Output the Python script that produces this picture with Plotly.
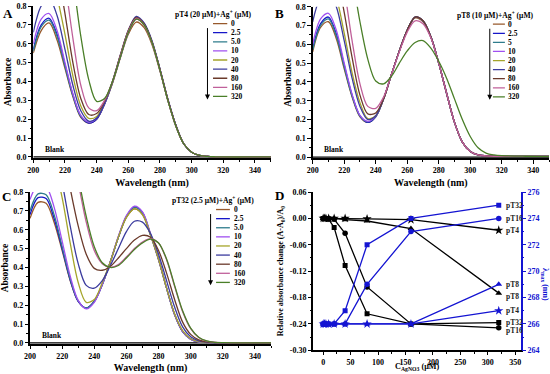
import plotly.graph_objects as go

# ---------------- data ----------------
WL = [200, 205, 210, 215, 220, 225, 230, 235, 240, 245, 250, 255, 260, 265,
      270, 275, 280, 285, 290, 295, 300, 305, 310, 315, 320, 335, 350]

LABELS_A = ["0", "2.5", "5.0", "10", "20", "40", "80", "160", "320"]
LABELS_B = ["0", "2.5", "5", "10", "20", "40", "80", "160", "320"]
LABELS_C = ["0", "2.5", "5.0", "10", "20", "40", "80", "160", "320"]
COLORS = ["#97582B", "#1616C8", "#2E7C8C", "#A050F0", "#A5A52A",
          "#3B3B9E", "#6B3A2B", "#C0609A", "#4A7F28"]

PT4_SPECTRA = [
    [0.55, 0.67, 0.71, 0.62, 0.47, 0.32, 0.21, 0.18, 0.20, 0.28, 0.39, 0.525, 0.65, 0.715, 0.685, 0.595, 0.455, 0.30, 0.165, 0.07, 0.025, 0.008, 0.003, 0.001, 0.0, 0.0, 0.0],
    [0.57, 0.70, 0.735, 0.65, 0.49, 0.33, 0.215, 0.18, 0.20, 0.28, 0.395, 0.535, 0.665, 0.74, 0.705, 0.61, 0.465, 0.305, 0.17, 0.07, 0.025, 0.008, 0.003, 0.001, 0.0, 0.0, 0.0],
    [0.56, 0.69, 0.725, 0.64, 0.48, 0.325, 0.215, 0.185, 0.205, 0.285, 0.395, 0.53, 0.66, 0.73, 0.70, 0.605, 0.46, 0.30, 0.165, 0.07, 0.025, 0.008, 0.003, 0.001, 0.0, 0.0, 0.0],
    [0.60, 0.73, 0.76, 0.67, 0.50, 0.335, 0.22, 0.185, 0.205, 0.285, 0.395, 0.53, 0.66, 0.73, 0.70, 0.605, 0.46, 0.30, 0.165, 0.07, 0.025, 0.008, 0.003, 0.001, 0.0, 0.0, 0.0],
    [0.95, 1.05, 1.0, 0.85, 0.65, 0.43, 0.27, 0.205, 0.215, 0.29, 0.395, 0.535, 0.665, 0.735, 0.70, 0.605, 0.46, 0.30, 0.165, 0.07, 0.025, 0.008, 0.003, 0.001, 0.0, 0.0, 0.0],
    [0.66, 0.80, 0.84, 0.75, 0.57, 0.38, 0.245, 0.19, 0.205, 0.285, 0.40, 0.54, 0.67, 0.745, 0.71, 0.615, 0.465, 0.305, 0.17, 0.07, 0.025, 0.008, 0.003, 0.001, 0.0, 0.0, 0.0],
    [1.2, 1.3, 1.2, 1.0, 0.76, 0.50, 0.31, 0.225, 0.23, 0.295, 0.40, 0.54, 0.67, 0.74, 0.705, 0.61, 0.465, 0.305, 0.17, 0.07, 0.025, 0.008, 0.003, 0.001, 0.0, 0.0, 0.0],
    [1.4, 1.5, 1.4, 1.2, 0.93, 0.63, 0.38, 0.26, 0.245, 0.30, 0.40, 0.535, 0.665, 0.735, 0.70, 0.605, 0.46, 0.30, 0.165, 0.07, 0.025, 0.008, 0.003, 0.001, 0.0, 0.0, 0.0],
    [1.8, 1.9, 1.8, 1.55, 1.25, 0.95, 0.64, 0.41, 0.295, 0.31, 0.40, 0.53, 0.66, 0.73, 0.70, 0.605, 0.46, 0.30, 0.165, 0.07, 0.025, 0.008, 0.003, 0.001, 0.0, 0.0, 0.0],
]

PT8_SPECTRA = [
    [0.56, 0.69, 0.72, 0.63, 0.47, 0.32, 0.215, 0.185, 0.215, 0.31, 0.44, 0.565, 0.675, 0.74, 0.72, 0.64, 0.50, 0.34, 0.185, 0.08, 0.03, 0.012, 0.007, 0.005, 0.005, 0.004, 0.004],
    [0.58, 0.71, 0.745, 0.655, 0.49, 0.33, 0.22, 0.185, 0.215, 0.31, 0.44, 0.565, 0.675, 0.745, 0.725, 0.64, 0.50, 0.34, 0.185, 0.08, 0.03, 0.012, 0.007, 0.005, 0.005, 0.004, 0.004],
    [0.57, 0.70, 0.735, 0.645, 0.48, 0.325, 0.218, 0.188, 0.217, 0.31, 0.44, 0.565, 0.675, 0.745, 0.725, 0.64, 0.50, 0.34, 0.185, 0.08, 0.03, 0.012, 0.007, 0.005, 0.005, 0.004, 0.004],
    [0.60, 0.735, 0.765, 0.675, 0.50, 0.335, 0.222, 0.19, 0.218, 0.31, 0.44, 0.565, 0.675, 0.745, 0.725, 0.64, 0.50, 0.34, 0.185, 0.08, 0.03, 0.012, 0.007, 0.005, 0.005, 0.004, 0.004],
    [0.80, 0.95, 0.95, 0.85, 0.66, 0.45, 0.29, 0.205, 0.22, 0.31, 0.44, 0.565, 0.675, 0.745, 0.725, 0.64, 0.50, 0.34, 0.185, 0.08, 0.03, 0.012, 0.007, 0.005, 0.005, 0.004, 0.004],
    [0.72, 0.85, 0.88, 0.80, 0.62, 0.42, 0.27, 0.20, 0.22, 0.31, 0.44, 0.565, 0.675, 0.745, 0.725, 0.64, 0.50, 0.34, 0.185, 0.08, 0.03, 0.012, 0.007, 0.005, 0.005, 0.004, 0.004],
    [1.1, 1.2, 1.15, 0.98, 0.77, 0.53, 0.33, 0.23, 0.235, 0.31, 0.44, 0.565, 0.675, 0.745, 0.725, 0.64, 0.50, 0.34, 0.185, 0.08, 0.03, 0.012, 0.007, 0.005, 0.005, 0.004, 0.004],
    [1.3, 1.4, 1.35, 1.15, 0.90, 0.62, 0.39, 0.27, 0.26, 0.32, 0.44, 0.56, 0.665, 0.725, 0.71, 0.635, 0.50, 0.34, 0.185, 0.08, 0.03, 0.012, 0.007, 0.005, 0.005, 0.004, 0.004],
    [1.8, 1.9, 1.8, 1.55, 1.25, 0.97, 0.72, 0.52, 0.405, 0.39, 0.43, 0.50, 0.565, 0.61, 0.62, 0.58, 0.51, 0.42, 0.31, 0.20, 0.11, 0.05, 0.022, 0.012, 0.008, 0.005, 0.004],
]

PT32_SPECTRA = [
    [0.66, 0.745, 0.74, 0.64, 0.49, 0.33, 0.22, 0.185, 0.22, 0.31, 0.43, 0.56, 0.665, 0.71, 0.68, 0.57, 0.44, 0.29, 0.15, 0.06, 0.02, 0.006, 0.002, 0.001, 0.0, 0.0, 0.0],
    [0.68, 0.77, 0.765, 0.66, 0.50, 0.335, 0.22, 0.185, 0.22, 0.31, 0.43, 0.56, 0.67, 0.72, 0.69, 0.575, 0.445, 0.29, 0.15, 0.06, 0.02, 0.006, 0.002, 0.001, 0.0, 0.0, 0.0],
    [0.70, 0.79, 0.785, 0.68, 0.51, 0.34, 0.222, 0.185, 0.22, 0.31, 0.43, 0.56, 0.67, 0.72, 0.69, 0.575, 0.445, 0.29, 0.15, 0.06, 0.02, 0.006, 0.002, 0.001, 0.0, 0.0, 0.0],
    [0.76, 0.84, 0.83, 0.72, 0.54, 0.355, 0.225, 0.18, 0.215, 0.31, 0.43, 0.565, 0.675, 0.725, 0.695, 0.58, 0.445, 0.29, 0.15, 0.06, 0.02, 0.006, 0.002, 0.001, 0.0, 0.0, 0.0],
    [0.90, 1.05, 1.05, 0.95, 0.77, 0.53, 0.32, 0.215, 0.23, 0.32, 0.43, 0.56, 0.665, 0.71, 0.68, 0.575, 0.445, 0.29, 0.155, 0.065, 0.022, 0.007, 0.002, 0.001, 0.0, 0.0, 0.0],
    [1.0, 1.15, 1.15, 1.05, 0.85, 0.62, 0.42, 0.305, 0.29, 0.33, 0.41, 0.50, 0.59, 0.645, 0.64, 0.58, 0.47, 0.33, 0.19, 0.085, 0.032, 0.011, 0.004, 0.001, 0.0, 0.0, 0.0],
    [1.3, 1.45, 1.45, 1.3, 1.05, 0.82, 0.62, 0.47, 0.395, 0.385, 0.405, 0.45, 0.50, 0.545, 0.57, 0.56, 0.49, 0.37, 0.23, 0.11, 0.045, 0.016, 0.005, 0.002, 0.001, 0.0, 0.0],
    [1.5, 1.7, 1.7, 1.55, 1.3, 1.05, 0.85, 0.64, 0.49, 0.42, 0.40, 0.415, 0.455, 0.50, 0.535, 0.553, 0.53, 0.44, 0.30, 0.165, 0.075, 0.028, 0.009, 0.003, 0.001, 0.0, 0.0],
    [1.6, 1.8, 1.8, 1.6, 1.35, 1.08, 0.88, 0.67, 0.51, 0.425, 0.40, 0.41, 0.45, 0.495, 0.53, 0.55, 0.53, 0.445, 0.305, 0.17, 0.078, 0.03, 0.01, 0.003, 0.001, 0.0, 0.0],
]

BLANK_WL = [200, 350]
BLANK_ABS = [0.0, 0.0]

# panel D
CONC = [0, 2.5, 5, 10, 20, 40, 80, 160, 320]
REL_PT4 = [0, 0, 0, 0, 0, 0, -0.001, -0.003, -0.027]
REL_PT8 = [0, 0, 0, 0, 0, -0.003, -0.006, -0.023, -0.170]
REL_PT16 = [0, 0, 0, 0, -0.002, -0.034, -0.156, -0.240, -0.249]
REL_PT32 = [0, 0, 0, -0.002, -0.021, -0.107, -0.217, -0.240, -0.237]
LMAX_PT4 = [266, 266, 266, 266, 266, 266, 266, 266, 267]
LMAX_PT8 = [266, 266, 266, 266, 266, 266, 266, 266, 269]
LMAX_PT16 = [266, 266, 266, 266, 266, 266, 269, 273, 274]
LMAX_PT32 = [266, 266, 266, 266, 266, 267, 272, 274, 275]
D_LEFT_TICKS = [0.06, 0.00, -0.06, -0.12, -0.18, -0.24, -0.30]
D_LEFT_TEXT = ["0.06", "0.00", "-0.06", "-0.12", "-0.18", "-0.24", "-0.30"]

# ---------------- figure ----------------
FONT = "Liberation Serif"
BLUE = "#1414D2"
fig = go.Figure()

panels = [
    dict(xa="x", ya="y", data=PT4_SPECTRA, labels=LABELS_A,
         title="pT4 (20 μM)+Ag<sup>+</sup> (μM)", tx=314, ax=310, lx0=313.5, lx1=322.5, lt=323.8),
    dict(xa="x2", ya="y2", data=PT8_SPECTRA, labels=LABELS_B,
         title="pT8 (10 μM)+Ag<sup>+</sup> (μM)", tx=316, ax=312.4, lx0=314.4, lx1=322, lt=322.8),
    dict(xa="x3", ya="y3", data=PT32_SPECTRA, labels=LABELS_C,
         title="pT32 (2.5 μM)+Ag<sup>+</sup> (μM)", tx=314, ax=312.4, lx0=315.8, lx1=324.4, lt=326),
]

annotations = []
shapes = []
for p in panels:
    fig.add_trace(go.Scatter(x=BLANK_WL, y=BLANK_ABS, mode="lines", name="Blank",
                             line=dict(color="black", width=1.3),
                             xaxis=p["xa"], yaxis=p["ya"], showlegend=False))
    for i, spec in enumerate(p["data"]):
        fig.add_trace(go.Scatter(x=WL, y=spec, mode="lines", name=p["labels"][i],
                                 line=dict(color=COLORS[i], width=1.3, shape="spline", smoothing=0.9),
                                 xaxis=p["xa"], yaxis=p["ya"], showlegend=False))
    # custom compact legend
    annotations.append(dict(x=p["tx"], y=0.758, xref=p["xa"], yref=p["ya"], text=p["title"],
                            showarrow=False, font=dict(family=FONT, size=7.6, color="black", weight="bold")))
    annotations.append(dict(x=p["ax"], y=0.305, xref=p["xa"], yref=p["ya"], ax=p["ax"], ay=0.728,
                            axref=p["xa"], ayref=p["ya"], text=" ", showarrow=True,
                            arrowhead=2, arrowsize=1, arrowwidth=1, arrowcolor="black"))
    for i, lab in enumerate(p["labels"]):
        yy = 0.707 - i * 0.0483
        shapes.append(dict(type="line", xref=p["xa"], yref=p["ya"], x0=p["lx0"], x1=p["lx1"],
                           y0=yy, y1=yy, line=dict(color=COLORS[i], width=1.3)))
        annotations.append(dict(x=p["lt"], y=yy, xref=p["xa"], yref=p["ya"], text=lab,
                                xanchor="left", showarrow=False,
                                font=dict(family=FONT, size=7.5, color="black", weight="bold")))
    annotations.append(dict(x=206, y=0.0, xref=p["xa"], yref=p["ya"], text="Blank",
                            xanchor="left", yanchor="bottom", yshift=1, showarrow=False,
                            font=dict(family=FONT, size=7.5, color="black", weight="bold")))

# panel D traces
series = [
    ("pT4", REL_PT4, LMAX_PT4, "star", 7),
    ("pT8", REL_PT8, LMAX_PT8, "triangle-up", 6),
    ("pT16", REL_PT16, LMAX_PT16, "circle", 5.5),
    ("pT32", REL_PT32, LMAX_PT32, "square", 5),
]
for name, rel, lmax, sym, sz in series:
    fig.add_trace(go.Scatter(x=CONC, y=rel, mode="lines+markers", name=name,
                             line=dict(color="black", width=1.3),
                             marker=dict(symbol=sym, size=sz, color="black"),
                             xaxis="x4", yaxis="y4", showlegend=False))
for name, rel, lmax, sym, sz in series:
    fig.add_trace(go.Scatter(x=CONC, y=lmax, mode="lines+markers", name=name,
                             line=dict(color=BLUE, width=1.3),
                             marker=dict(symbol=sym, size=sz, color=BLUE),
                             xaxis="x4", yaxis="y5", showlegend=False))
for name, rel, lmax, sym, sz in series:
    annotations.append(dict(x=CONC[-1], y=rel[-1], xref="x4", yref="y4", text=name,
                            xanchor="left", xshift=5, showarrow=False,
                            yshift=-3 if name in ("pT8", "pT16") else 0,
                            font=dict(family=FONT, size=7.5, color="#222222", weight="bold")))
    annotations.append(dict(x=CONC[-1], y=lmax[-1], xref="x4", yref="y5", text=name,
                            xanchor="left", xshift=5, showarrow=False,
                            font=dict(family=FONT, size=7.5, color="#222222", weight="bold")))

annotations.append(dict(x=545 / 550, y=1 - 284 / 374, xref="paper", yref="paper",
                        xanchor="center", yanchor="middle",
                        text="λ<sub>max</sub> (nm)", textangle=90, showarrow=False,
                        font=dict(family=FONT, size=8, color=BLUE, weight="bold")))
# x-axis title of panel D
annotations.append(dict(x=(417 / 550), y=0.0, xref="paper", yref="paper",
                        xanchor="center", yanchor="bottom", yshift=0,
                        text="C<sub>AgNO3</sub> (μM)", showarrow=False,
                        font=dict(family=FONT, size=8.2, color="black", weight="bold")))

for letter, px, py in [("A", 8, 13), ("B", 280, 13), ("C", 6, 196), ("D", 280, 195)]:
    annotations.append(dict(x=px / 550, y=1 - py / 374, xref="paper", yref="paper", text=letter,
                            xanchor="center", yanchor="middle", showarrow=False,
                            font=dict(family=FONT, size=13, color="black", weight="bold")))

tickfont = dict(family=FONT, size=8, color="black", weight="bold")
titlefont = dict(family=FONT, size=9.5, color="black", weight="bold")


def spec_x(domain, anchor):
    return dict(domain=domain, anchor=anchor, range=[200, 350], tick0=200, dtick=20,
                ticks="outside", ticklen=3.5, tickwidth=1.2, tickcolor="black",
                minor=dict(dtick=10, ticks="outside", ticklen=2, tickwidth=1, tickcolor="black"),
                showline=True, linecolor="black", linewidth=1.5, showgrid=False, zeroline=False,
                tickfont=tickfont, automargin=False,
                title=dict(text="Wavelength (nm)", font=dict(family=FONT, size=10, color="black", weight="bold"), standoff=5))


def spec_y(domain, anchor):
    return dict(domain=domain, anchor=anchor, range=[-0.006, 0.8], tick0=0, dtick=0.1,
                tickformat=".1f", ticks="outside", ticklen=3.5, tickwidth=1.2, tickcolor="black",
                minor=dict(dtick=0.05, ticks="outside", ticklen=2, tickwidth=1, tickcolor="black"),
                showline=True, linecolor="black", linewidth=1.5, showgrid=False, zeroline=False,
                tickfont=tickfont, automargin=False,
                title=dict(text="Absorbance", font=titlefont, standoff=3))


fig.update_layout(
    width=550, height=374, margin=dict(l=0, r=0, t=0, b=0, autoexpand=False),
    paper_bgcolor="white", plot_bgcolor="white", showlegend=False,
    font=dict(family=FONT, color="black"),
    xaxis=spec_x([33.3 / 550, 270.8 / 550], "y"),
    yaxis=spec_y([1 - 158.1 / 374, 1 - 6 / 374], "x"),
    xaxis2=spec_x([312.7 / 550, 549 / 550], "y2"),
    yaxis2=spec_y([1 - 158.3 / 374, 1 - 6.7 / 374], "x2"),
    xaxis3=spec_x([30 / 550, 271 / 550], "y3"),
    yaxis3=spec_y([1 - 344 / 374, 1 - 192 / 374], "x3"),
    xaxis4=dict(domain=[313.3 / 550, 520.7 / 550], anchor="y4", range=[-18, 360], tick0=0, dtick=50,
                ticks="outside", ticklen=3, tickwidth=1.2, tickcolor="black",
                minor=dict(dtick=25, ticks="outside", ticklen=2, tickwidth=1, tickcolor="black"),
                showline=True, linecolor="black", linewidth=1.5, showgrid=False, zeroline=False,
                tickfont=tickfont, automargin=False),
    yaxis4=dict(domain=[1 - 350.3 / 374, 1 - 192 / 374], anchor="x4", range=[-0.30, 0.06],
                tickvals=D_LEFT_TICKS, ticktext=D_LEFT_TEXT,
                ticks="outside", ticklen=3.5, tickwidth=1.2, tickcolor="black",
                minor=dict(tickvals=[0.03, -0.03, -0.09, -0.15, -0.21, -0.27], ticks="outside",
                           ticklen=2, tickwidth=1, tickcolor="black"),
                showline=True, linecolor="black", linewidth=1.5, showgrid=False, zeroline=False,
                tickfont=tickfont, automargin=False,
                title=dict(text="Relative absorbance change (A-A<sub>0</sub>)/A<sub>0</sub>",
                           font=dict(family=FONT, size=8, color="black", weight="bold"), standoff=5)),
    yaxis5=dict(overlaying="y4", anchor="x4", side="right", range=[264, 276], tick0=264, dtick=2,
                ticks="outside", ticklen=3.5, tickwidth=1.2, tickcolor=BLUE,
                minor=dict(dtick=1, ticks="outside", ticklen=2, tickwidth=1, tickcolor=BLUE),
                showline=True, linecolor=BLUE, linewidth=1.5, showgrid=False, zeroline=False,
                tickfont=dict(family=FONT, size=8, color=BLUE, weight="bold"), automargin=False),
    annotations=annotations,
    shapes=shapes,
)

fig.write_html("out.html", config={"displayModeBar": False},
               post_script="document.body.style.margin='0';document.body.style.padding='0';")
